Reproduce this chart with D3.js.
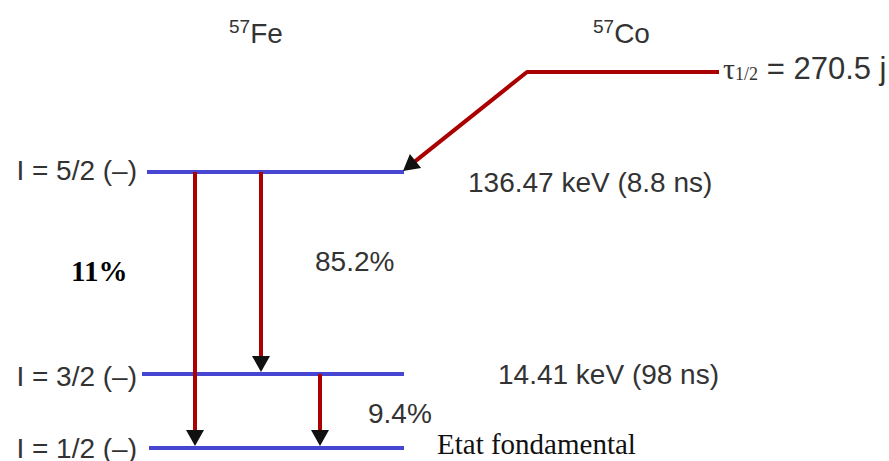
<!DOCTYPE html>
<html>
<head>
<meta charset="utf-8">
<script src="https://cdn.jsdelivr.net/npm/d3@7"></script>
<style>
  html, body { margin: 0; padding: 0; background: #fff; }
  svg { display: block; }
</style>
</head>
<body>
<div id="chart"></div>
<script>
// 57Fe levels, fed by 57Co decay
const levelNames = ["I = 5/2 (–)", "I = 3/2 (–)", "I = 1/2 (–)"];
const levelEnergies = [136.47, 14.41, 0];
const levelInfo = ["136.47 keV (8.8 ns)", "14.41 keV (98 ns)", "Etat fondamental"];

const transFrom = [0, 0, 1];
const transTo = [2, 1, 2];
const transLabels = ["11%", "85.2%", "9.4%"];

const halfLife = "270.5 j";

const width = 889, height = 461;
const blue = "#4646d2", red = "#aa0000", ink = "#333";
const sans = "'Liberation Sans', Arial, sans-serif";
const serif = "'Liberation Serif', 'Times New Roman', serif";

const svg = d3.select("#chart").append("svg")
  .attr("width", width)
  .attr("height", height);

// energy -> vertical position (piecewise, the scheme is not to scale)
const y = d3.scaleLinear()
  .domain([0, 14.41, 136.47])
  .range([448, 374, 172]);

const levelX0 = [147, 142, 149];
const levelX1 = 404;
const transX = [195, 261, 320];
const parentY = 72;

// levels
svg.append("g")
  .selectAll("line")
  .data(levelEnergies)
  .join("line")
  .attr("x1", (d, i) => levelX0[i])
  .attr("x2", levelX1)
  .attr("y1", d => y(d))
  .attr("y2", d => y(d))
  .attr("stroke", blue)
  .attr("stroke-width", 4);

svg.append("g")
  .selectAll("text")
  .data(levelNames)
  .join("text")
  .attr("x", 137)
  .attr("y", (d, i) => y(levelEnergies[i]) + [8, 12, 10][i])
  .attr("text-anchor", "end")
  .attr("fill", ink)
  .style("font", `28px ${sans}`)
  .text(d => d);

svg.append("g")
  .selectAll("text")
  .data(levelInfo)
  .join("text")
  .attr("x", (d, i) => [468, 498, 437][i])
  .attr("y", (d, i) => y(levelEnergies[i]) + [20, 10, 6][i])
  .attr("fill", (d, i) => i === 2 ? "#111" : ink)
  .style("font", (d, i) => i === 2 ? `29px ${serif}` : `28px ${sans}`)
  .text(d => d);

// arrowhead helper: tip at (x,y), pointing along angle (radians)
const head = (x, yy, ang) => {
  const len = 16, hw = 9;
  const bx = x - len * Math.cos(ang), by = yy - len * Math.sin(ang);
  const px = -Math.sin(ang) * hw, py = Math.cos(ang) * hw;
  return `M${x},${yy}L${bx + px},${by + py}L${bx - px},${by - py}Z`;
};

// gamma transitions
const trans = svg.append("g")
  .selectAll("g")
  .data(transLabels)
  .join("g");

trans.append("line")
  .attr("x1", (d, i) => transX[i])
  .attr("x2", (d, i) => transX[i])
  .attr("y1", (d, i) => y(levelEnergies[transFrom[i]]))
  .attr("y2", (d, i) => y(levelEnergies[transTo[i]]) - 14)
  .attr("stroke", red)
  .attr("stroke-width", 4);

trans.append("path")
  .attr("d", (d, i) => head(transX[i], y(levelEnergies[transTo[i]]) - 2, Math.PI / 2))
  .attr("fill", "#111");

const labelPos = [[71, 281], [315, 271], [368, 423]];
trans.append("text")
  .attr("x", (d, i) => labelPos[i][0])
  .attr("y", (d, i) => labelPos[i][1])
  .attr("fill", (d, i) => i === 0 ? "#000" : ink)
  .style("font", (d, i) => i === 0 ? `bold 29px ${serif}` : `28px ${sans}`)
  .text(d => d);

// 57Co parent and feeding branch
const px0 = 527, px1 = 719;
const tipX = 403, tipY = y(levelEnergies[0]) - 1;
svg.append("line")
  .attr("x1", px0).attr("x2", px1)
  .attr("y1", parentY).attr("y2", parentY)
  .attr("stroke", red).attr("stroke-width", 4);

const ang = Math.atan2(tipY - parentY, tipX - px0);
svg.append("line")
  .attr("x1", px0).attr("y1", parentY)
  .attr("x2", tipX - 13 * Math.cos(ang))
  .attr("y2", tipY - 13 * Math.sin(ang))
  .attr("stroke", red).attr("stroke-width", 4)
  .attr("stroke-linecap", "round");
svg.append("path")
  .attr("d", head(tipX, tipY, ang))
  .attr("fill", "#111");

// nuclide titles
const nuclides = [["57", "Fe", 229], ["57", "Co", 593]];
svg.append("g")
  .selectAll("text")
  .data(nuclides)
  .join("text")
  .attr("x", d => d[2])
  .attr("y", 43)
  .attr("fill", ink)
  .style("font", `28px ${sans}`)
  .call(t => t.append("tspan")
    .attr("font-size", 19)
    .attr("dy", -10)
    .text(d => d[0]))
  .call(t => t.append("tspan")
    .attr("dy", 10)
    .text(d => d[1]));

// half-life
const hl = svg.append("text")
  .attr("x", 723)
  .attr("y", 79)
  .attr("fill", ink)
  .style("font", `31px ${sans}`);
hl.append("tspan").style("font-family", serif).attr("font-size", 30).text("τ");
hl.append("tspan").style("font-family", serif).attr("font-size", 18).attr("dy", 1).text("1/2");
hl.append("tspan").attr("dy", -1).text(" = " + halfLife);
</script>
</body>
</html>
